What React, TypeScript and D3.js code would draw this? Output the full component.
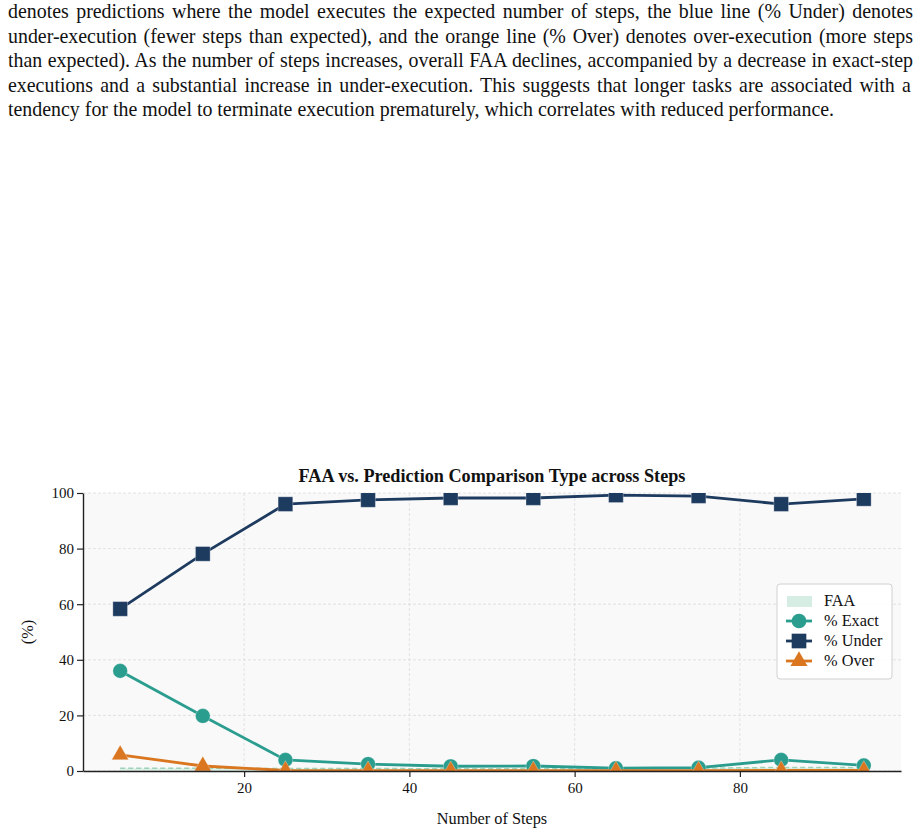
import { useEffect, useRef } from 'react'
import * as d3 from 'd3'

const captionLines = [
  'denotes predictions where the model executes the expected number of steps, the blue line (% Under) denotes',
  'under-execution (fewer steps than expected), and the orange line (% Over) denotes over-execution (more steps',
  'than expected). As the number of steps increases, overall FAA declines, accompanied by a decrease in exact-step',
  'executions and a substantial increase in under-execution.  This suggests that longer tasks are associated with a',
  'tendency for the model to terminate execution prematurely, which correlates with reduced performance.',
]

const steps = [5, 15, 25, 35, 45, 55, 65, 75, 85, 95]
const faa = [1.0, 1.0, 0.9, 0.9, 0.8, 0.8, 0.8, 1.0, 1.3, 1.2]
const pctExact = [36, 19.8, 4.0, 2.5, 1.7, 1.8, 1.0, 1.2, 4.0, 2.0]
const pctUnder = [58.3, 78.1, 96.0, 97.5, 98.2, 98.2, 99.2, 98.9, 96.0, 97.9]
const pctOver = [5.8, 1.8, 0.2, 0.1, 0.1, 0.1, 0.1, 0.1, 0.2, 0.2]
const xTicks = [20, 40, 60, 80]
const yTicks = [0, 20, 40, 60, 80, 100]

const W = 921
const H = 834
const margin = { top: 493, right: 20, bottom: 63, left: 83 }
const serif = '"Liberation Serif", "Times New Roman", serif'

const C_EXACT = '#2a9d8f'
const C_UNDER = '#1d3a5f'
const C_OVER = '#d9761f'
const C_FAA = '#d5ede2'
const C_FAA_LINE = '#9ed3b9'

export default function App() {
  const svgRef = useRef<SVGSVGElement>(null)

  useEffect(() => {
    if (!svgRef.current) return
    const svg = d3.select(svgRef.current)
    svg.selectAll('*').remove()

    // caption paragraph, justified
    captionLines.forEach((line, i) => {
      const t = svg.append('text')
        .attr('x', 8)
        .attr('y', 18 + i * 24.5)
        .attr('font-family', serif)
        .attr('font-size', 19.9)
        .attr('fill', '#111')
        .text(line)
      if (i < captionLines.length - 1) {
        const w = (t.node() as SVGTextElement).getComputedTextLength()
        const spaces = (line.match(/ /g) || []).length
        t.attr('word-spacing', (905 - w) / spaces)
      }
    })

    const x = d3.scaleLinear().domain([0.5, 99.5]).range([margin.left, W - margin.right])
    const y = d3.scaleLinear().domain([0, 100]).range([H - margin.bottom, margin.top])
    const [x0, x1] = x.range()
    const [y0, y1] = y.range()

    svg.append('defs').append('clipPath').attr('id', 'plot-clip')
      .append('rect')
      .attr('x', x0).attr('y', y1)
      .attr('width', x1 - x0).attr('height', y0 - y1)

    // plot background
    svg.append('rect')
      .attr('x', x0).attr('y', y1)
      .attr('width', x1 - x0).attr('height', y0 - y1)
      .attr('fill', '#f9f9f9')

    // grid
    const grid = svg.append('g')
      .attr('stroke', '#dcdcdc').attr('stroke-width', 0.8).attr('stroke-dasharray', '3,2')
    xTicks.forEach(v => grid.append('line').attr('x1', x(v)).attr('x2', x(v)).attr('y1', y0).attr('y2', y1))
    yTicks.forEach(v => grid.append('line').attr('x1', x0).attr('x2', x1).attr('y1', y(v)).attr('y2', y(v)))

    const plot = svg.append('g').attr('clip-path', 'url(#plot-clip)')

    // FAA area
    const area = d3.area<number>()
      .x((_, i) => x(steps[i]))
      .y0(y(0))
      .y1(d => y(d))
    plot.append('path').datum(faa).attr('d', area).attr('fill', C_FAA).attr('opacity', 0.8)
    const line = d3.line<number>().x((_, i) => x(steps[i])).y(d => y(d))
    plot.append('path').datum(faa).attr('d', line)
      .attr('fill', 'none').attr('stroke', C_FAA_LINE).attr('stroke-width', 1.5).attr('stroke-dasharray', '5,3')

    const drawSeries = (vals: number[], color: string, shape: d3.SymbolType, size: number) => {
      plot.append('path').datum(vals).attr('d', line)
        .attr('fill', 'none').attr('stroke', color).attr('stroke-width', 2.8)
      plot.append('g').selectAll('path')
        .data(vals)
        .join('path')
        .attr('transform', (d, i) => `translate(${x(steps[i])},${y(d)})`)
        .attr('d', d3.symbol().type(shape).size(size)())
        .attr('fill', color)
        .attr('stroke', 'rgba(255,255,255,0.5)')
        .attr('stroke-width', 0.6)
    }

    drawSeries(pctExact, C_EXACT, d3.symbolCircle, 170)
    drawSeries(pctUnder, C_UNDER, d3.symbolSquare, 215)
    drawSeries(pctOver, C_OVER, d3.symbolTriangle, 125)

    // axes
    const xAxis = svg.append('g')
      .attr('transform', `translate(0,${y0})`)
      .call(d3.axisBottom(x).tickValues(xTicks).tickSize(6).tickPadding(5).tickSizeOuter(0))
    const yAxis = svg.append('g')
      .attr('transform', `translate(${x0},0)`)
      .call(d3.axisLeft(y).tickValues(yTicks).tickSize(6).tickPadding(3).tickSizeOuter(0))
    for (const ax of [xAxis, yAxis]) {
      ax.select('.domain').attr('stroke', '#222').attr('stroke-width', 1.4)
      ax.selectAll('.tick line').attr('stroke', '#222').attr('stroke-width', 1.2)
      ax.selectAll('.tick text').attr('font-family', serif).attr('font-size', 15).attr('fill', '#111')
    }

    // title and labels
    svg.append('text')
      .attr('x', (x0 + x1) / 2).attr('y', 482)
      .attr('text-anchor', 'middle')
      .attr('font-family', serif).attr('font-weight', 'bold').attr('font-size', 18.2)
      .attr('fill', '#111')
      .text('FAA vs. Prediction Comparison Type across Steps')
    svg.append('text')
      .attr('x', (x0 + x1) / 2).attr('y', 824)
      .attr('text-anchor', 'middle')
      .attr('font-family', serif).attr('font-size', 16.3)
      .attr('fill', '#111')
      .text('Number of Steps')
    svg.append('text')
      .attr('transform', `translate(33,${(y0 + y1) / 2}) rotate(-90)`)
      .attr('text-anchor', 'middle')
      .attr('font-family', serif).attr('font-size', 16.3)
      .attr('fill', '#111')
      .text('(%)')

    // legend
    const lg = svg.append('g').attr('transform', 'translate(777,584)')
    lg.append('rect')
      .attr('width', 115).attr('height', 95).attr('rx', 3)
      .attr('fill', 'rgba(255,255,255,0.9)').attr('stroke', '#d0d0d0')
    const items = [
      { label: 'FAA', color: C_FAA, shape: null as d3.SymbolType | null, size: 0 },
      { label: '% Exact', color: C_EXACT, shape: d3.symbolCircle, size: 170 },
      { label: '% Under', color: C_UNDER, shape: d3.symbolSquare, size: 215 },
      { label: '% Over', color: C_OVER, shape: d3.symbolTriangle, size: 125 },
    ]
    items.forEach((it, i) => {
      const cy = 17 + i * 20
      if (!it.shape) {
        lg.append('rect').attr('x', 10).attr('y', cy - 5).attr('width', 25).attr('height', 11).attr('fill', it.color)
      } else {
        lg.append('line').attr('x1', 9).attr('x2', 35).attr('y1', cy).attr('y2', cy)
          .attr('stroke', it.color).attr('stroke-width', 2.8)
        lg.append('path')
          .attr('transform', `translate(22,${cy})`)
          .attr('d', d3.symbol().type(it.shape).size(it.size)())
          .attr('fill', it.color)
      }
      lg.append('text')
        .attr('x', 47).attr('y', cy + 5)
        .attr('font-family', serif).attr('font-size', 16.3).attr('fill', '#111')
        .text(it.label)
    })
  }, [])

  return (
    <svg
      ref={svgRef}
      width={W}
      height={H}
      style={{ position: 'absolute', left: 0, top: 0, background: '#fff' }}
    />
  )
}
